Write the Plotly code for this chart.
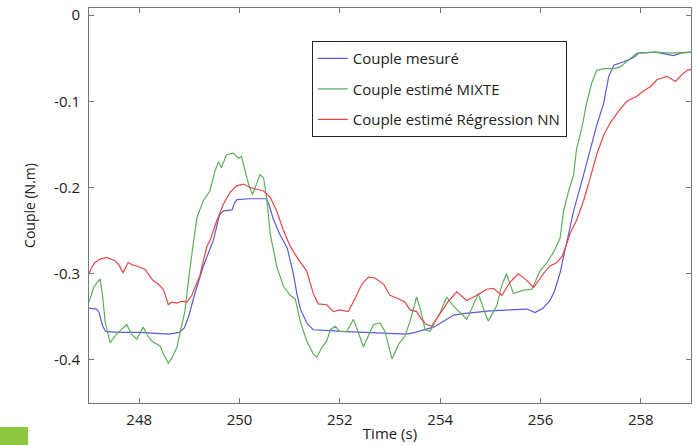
import plotly.graph_objects as go

# ---- data ----
t_mes = [247.0, 247.15, 247.2, 247.27, 247.33, 247.6, 248.0, 248.3, 248.6, 248.8, 248.9, 249.0, 249.1,
         249.28, 249.48, 249.6, 249.68, 249.85, 249.9, 249.95, 250.2, 250.54, 250.6, 250.67, 250.8,
         250.95, 251.07, 251.15, 251.22, 251.35, 251.47, 251.8, 252.0, 252.5, 253.0, 253.33, 253.5,
         253.87, 254.1, 254.27, 254.5, 255.0, 255.4, 255.73, 255.89, 256.05, 256.19, 256.28, 256.39,
         256.46, 256.53, 256.66, 256.86, 256.99, 257.12, 257.26, 257.36, 257.46, 257.66, 257.86,
         257.96, 258.3, 258.5, 258.65, 258.8, 259.0]
v_mes = [-0.340, -0.341, -0.345, -0.360, -0.367, -0.368, -0.368, -0.369, -0.370, -0.368, -0.363, -0.347,
         -0.325, -0.291, -0.261, -0.232, -0.227, -0.226, -0.218, -0.214, -0.213, -0.213, -0.222, -0.236,
         -0.254, -0.270, -0.299, -0.325, -0.342, -0.358, -0.365, -0.366, -0.367, -0.368, -0.369, -0.370,
         -0.368, -0.362, -0.354, -0.348, -0.346, -0.343, -0.342, -0.341, -0.345, -0.340, -0.331, -0.320,
         -0.299, -0.280, -0.261, -0.227, -0.185, -0.155, -0.128, -0.102, -0.071, -0.058, -0.054, -0.049,
         -0.044, -0.043, -0.045, -0.047, -0.044, -0.043]

t_mix = [247.0, 247.1, 247.22, 247.27, 247.32, 247.42, 247.55, 247.65, 247.75, 247.85, 247.95, 248.08,
         248.17, 248.25, 248.35, 248.42, 248.5, 248.58, 248.65, 248.75, 248.83, 248.91, 249.01, 249.08,
         249.15, 249.28, 249.41, 249.51, 249.58, 249.64, 249.74, 249.88, 249.98, 250.04, 250.11, 250.18,
         250.26, 250.34, 250.41, 250.48, 250.54, 250.61, 250.74, 250.87, 251.01, 251.11, 251.21, 251.34,
         251.47, 251.54, 251.64, 251.74, 251.81, 251.91, 252.0, 252.14, 252.27, 252.35, 252.47, 252.57,
         252.67, 252.8, 252.9, 253.04, 253.17, 253.3, 253.4, 253.47, 253.53, 253.6, 253.7, 253.8, 253.9,
         254.0, 254.13, 254.26, 254.4, 254.53, 254.65, 254.76, 254.86, 254.96, 255.13, 255.22, 255.32,
         255.46, 255.66, 255.83, 255.99, 256.13, 256.26, 256.39, 256.46, 256.56, 256.66, 256.72, 256.82,
         256.92, 257.02, 257.12, 257.26, 257.46, 257.59, 257.72, 257.92, 258.3, 258.6, 259.0]
v_mix = [-0.333, -0.315, -0.306, -0.325, -0.355, -0.380, -0.370, -0.365, -0.359, -0.370, -0.376, -0.362,
         -0.372, -0.378, -0.381, -0.384, -0.395, -0.404, -0.398, -0.386, -0.365, -0.344, -0.295, -0.265,
         -0.235, -0.215, -0.204, -0.181, -0.170, -0.177, -0.162, -0.160, -0.166, -0.164, -0.181, -0.196,
         -0.208, -0.196, -0.185, -0.189, -0.211, -0.253, -0.291, -0.314, -0.325, -0.329, -0.355, -0.378,
         -0.393, -0.397, -0.386, -0.378, -0.365, -0.361, -0.367, -0.367, -0.353, -0.365, -0.385, -0.372,
         -0.359, -0.357, -0.367, -0.399, -0.382, -0.372, -0.355, -0.340, -0.327, -0.340, -0.365, -0.367,
         -0.355, -0.345, -0.327, -0.337, -0.345, -0.353, -0.338, -0.323, -0.340, -0.355, -0.337, -0.315,
         -0.300, -0.323, -0.319, -0.318, -0.297, -0.287, -0.275, -0.259, -0.227, -0.204, -0.185, -0.155,
         -0.132, -0.102, -0.079, -0.064, -0.062, -0.062, -0.060, -0.054, -0.044, -0.043, -0.044, -0.043]

t_nn = [247.0, 247.06, 247.12, 247.22, 247.35, 247.45, 247.52, 247.6, 247.68, 247.78, 247.87, 247.95,
        248.05, 248.12, 248.2, 248.28, 248.38, 248.48, 248.54, 248.58, 248.65, 248.75, 248.85, 248.95,
        249.05, 249.15, 249.21, 249.35, 249.41, 249.55, 249.68, 249.81, 249.94, 250.08, 250.21, 250.34,
        250.48, 250.61, 250.74, 250.87, 251.01, 251.17, 251.34, 251.47, 251.57, 251.74, 251.87, 252.0,
        252.17, 252.3, 252.44, 252.57, 252.7, 252.87, 253.0, 253.17, 253.3, 253.4, 253.53, 253.63,
        253.73, 253.83, 253.93, 254.0, 254.15, 254.33, 254.53, 254.73, 254.93, 255.06, 255.23, 255.39,
        255.56, 255.73, 255.86, 256.06, 256.19, 256.33, 256.43, 256.53, 256.59, 256.72, 256.86, 256.99,
        257.12, 257.26, 257.4, 257.56, 257.72, 257.92, 258.05, 258.19, 258.32, 258.52, 258.69, 258.82,
        258.92, 259.0]
v_nn = [-0.300, -0.292, -0.287, -0.283, -0.281, -0.283, -0.285, -0.290, -0.299, -0.287, -0.290, -0.291,
        -0.293, -0.295, -0.302, -0.308, -0.312, -0.318, -0.328, -0.336, -0.333, -0.334, -0.332, -0.333,
        -0.325, -0.310, -0.302, -0.268, -0.262, -0.238, -0.219, -0.206, -0.198, -0.196, -0.200, -0.202,
        -0.204, -0.211, -0.227, -0.249, -0.268, -0.283, -0.297, -0.323, -0.335, -0.336, -0.344, -0.342,
        -0.344, -0.329, -0.312, -0.304, -0.305, -0.312, -0.325, -0.329, -0.333, -0.342, -0.344, -0.353,
        -0.359, -0.361, -0.352, -0.346, -0.333, -0.321, -0.331, -0.325, -0.318, -0.317, -0.325, -0.310,
        -0.300, -0.308, -0.316, -0.300, -0.291, -0.287, -0.280, -0.264, -0.253, -0.238, -0.215, -0.189,
        -0.162, -0.139, -0.124, -0.111, -0.100, -0.094, -0.088, -0.083, -0.075, -0.071, -0.077, -0.069,
        -0.064, -0.063]

names = ["Couple mesuré", "Couple estimé MIXTE", "Couple estimé Régression NN"]
x_ticks = [248, 250, 252, 254, 256, 258]
y_ticks = [0, -0.1, -0.2, -0.3, -0.4]
y_tick_text = ["0", "-0.1", "-0.2", "-0.3", "-0.4"]

FONT = "Open Sans"

fig = go.Figure()
series = [(t_mes, v_mes, "#5b5bd6"), (t_mix, v_mix, "#5fae5f"), (t_nn, v_nn, "#e34848")]
for i, (tx, vy, col) in enumerate(series):
    fig.add_trace(go.Scatter(x=tx, y=vy, mode="lines", name=names[i], legendgroup=f"g{i}",
                             line=dict(color=col, width=1.2)))

axis_common = dict(showgrid=False, zeroline=False, showline=True, linecolor="#777777", linewidth=1,
                   mirror="ticks", ticks="inside", ticklen=5, tickcolor="#777777", automargin=False,
                   tickfont=dict(family=FONT, size=15, color="#222222"))

fig.update_layout(
    width=698, height=445,
    margin=dict(l=89, r=7, t=8, b=42),
    paper_bgcolor="white", plot_bgcolor="white",
    font=dict(family=FONT, color="#222222"),
    showlegend=True,
    legend=dict(x=0.37, y=0.916, xanchor="left", yanchor="top",
                bordercolor="#222222", borderwidth=1, bgcolor="white",
                font=dict(family=FONT, size=15, color="#222222"),
                traceorder="grouped", tracegroupgap=8, itemwidth=30),
    xaxis=dict(range=[247, 259], tickvals=x_ticks, ticklabelstandoff=3,
               title=dict(text="Time (s)", font=dict(family=FONT, size=15), standoff=0), **axis_common),
    yaxis=dict(range=[-0.45, 0.0083], tickvals=y_ticks, ticktext=y_tick_text, ticklabelstandoff=5,
               title=dict(text="Couple (N.m)", font=dict(family=FONT, size=14), standoff=15), **axis_common),
    shapes=[dict(type="rect", xref="paper", yref="paper", x0=-0.1478, x1=-0.1013, y0=-0.1063, y1=-0.0608,
                 fillcolor="#8dc63f", line=dict(width=0), layer="above")],
)

fig.write_html("out.html", config={"displayModeBar": False},
               post_script="document.body.style.margin='0';")
